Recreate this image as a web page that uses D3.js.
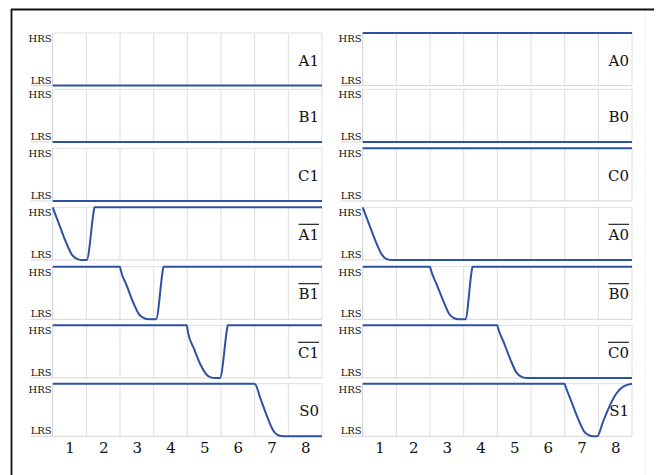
<!DOCTYPE html>
<html><head><meta charset="utf-8">
<script src="https://cdn.jsdelivr.net/npm/d3@7"></script>
<style>body{margin:0;background:#fff}svg{display:block}</style>
</head><body>
<svg id="c" width="656" height="475"></svg>
<script>
// ---- data ----
const categories = [1, 2, 3, 4, 5, 6, 7, 8];
const levelLabels = ["LRS", "HRS"];          // value 0 -> LRS, 1 -> HRS
const leftLabels  = ["A1", "B1", "C1", "A1", "B1", "C1", "S0"];
const leftBar     = [false, false, false, true, true, true, false];
const rightLabels = ["A0", "B0", "C0", "A0", "B0", "C0", "S1"];
const rightBar    = [false, false, false, true, true, true, false];

// series as [x, level] points
const sA1 = [[0.5, 0], [8.5, 0]];
const sB1 = [[0.5, 0], [8.5, 0]];
const sC1 = [[0.5, 0], [8.5, 0]];
const sA1bar = [[0.5, 1], [0.7, 0.66], [0.9, 0.33], [1.07, 0.1], [1.22, 0.02], [1.35, 0], [1.51, 0], [1.72, 0.93], [1.74, 1], [8.5, 1]];
const sB1bar = [[0.5, 1], [2.5, 1], [2.52, 0.94], [2.7, 0.64], [2.9, 0.31], [3.07, 0.09], [3.22, 0.02], [3.36, 0], [3.57, 0], [3.77, 0.93], [3.79, 1], [8.5, 1]];
const sC1bar = [[0.5, 1], [4.48, 1], [4.52, 0.86], [4.7, 0.55], [4.9, 0.24], [5.06, 0.07], [5.2, 0.01], [5.33, 0], [5.47, 0], [5.68, 0.93], [5.70, 1], [8.5, 1]];
const sS0 = [[0.5, 1], [6.5, 1], [6.68, 0.7], [6.88, 0.36], [7.06, 0.1], [7.2, 0.02], [7.35, 0], [8.5, 0]];

const sA0 = [[0.5, 1], [8.5, 1]];
const sB0 = [[0.5, 0], [8.5, 0]];
const sC0 = [[0.5, 1], [8.5, 1]];
const sA0bar = [[0.5, 1], [0.7, 0.66], [0.9, 0.33], [1.06, 0.11], [1.2, 0.02], [1.35, 0], [8.5, 0]];
const sB0bar = [[0.5, 1], [2.5, 1], [2.52, 0.95], [2.7, 0.66], [2.9, 0.34], [3.07, 0.1], [3.22, 0.02], [3.36, 0], [3.55, 0], [3.74, 0.93], [3.76, 1], [8.5, 1]];
const sC0bar = [[0.5, 1], [4.5, 1], [4.52, 0.95], [4.7, 0.66], [4.9, 0.33], [5.07, 0.1], [5.22, 0.02], [5.36, 0], [8.5, 0]];
const sS1 = [[0.5, 1], [6.5, 1], [6.52, 0.96], [6.7, 0.66], [6.9, 0.33], [7.08, 0.09], [7.22, 0.02], [7.34, 0], [7.47, 0], [7.63, 0.26], [7.83, 0.57], [8.03, 0.81], [8.25, 0.95], [8.5, 1]];

const leftSeries  = [sA1, sB1, sC1, sA1bar, sB1bar, sC1bar, sS0];
const rightSeries = [sA0, sB0, sC0, sA0bar, sB0bar, sC0bar, sS1];

// ---- layout ----
const rowTops = [33, 89.3, 148.3, 207.3, 266.7, 325.3, 383.7];
const rowH = 52.6;
const columns = [
  {x0: 52.7, x1: 322, labels: leftLabels, bars: leftBar, series: leftSeries},
  {x0: 362.7, x1: 632, labels: rightLabels, bars: rightBar, series: rightSeries}
];
const FONT = "'DejaVu Serif', serif";
const lineColor = "#2d52a3";
const textColor = "#111";

const svg = d3.select("#c");
svg.append("rect").attr("width", 656).attr("height", 475).attr("fill", "#fff");

// page border
svg.append("line").attr("x1", 645).attr("x2", 645).attr("y1", 10).attr("y2", 475).attr("stroke", "#efefef").attr("stroke-width", 1);
svg.append("line").attr("x1", 11.5).attr("x2", 11.5).attr("y1", 9).attr("y2", 475).attr("stroke", "#111").attr("stroke-width", 1.8);
svg.append("line").attr("x1", 11).attr("x2", 654).attr("y1", 9.5).attr("y2", 9.5).attr("stroke", "#111").attr("stroke-width", 1.8);

columns.forEach(col => {
  const x = d3.scaleLinear().domain([0.5, 8.5]).range([col.x0, col.x1]);
  rowTops.forEach((top, r) => {
    const bottom = top + rowH;
    const y = d3.scaleLinear().domain([0, 1]).range([bottom, top]);
    const g = svg.append("g");
    // vertical grid at band boundaries
    const bounds = categories.map(c => c + 0.5).slice(0, -1);
    g.selectAll("line.grid").data(bounds).join("line")
      .attr("x1", d => x(d)).attr("x2", d => x(d))
      .attr("y1", top).attr("y2", bottom)
      .attr("stroke", "#dedede").attr("stroke-width", 1);
    // frame
    g.append("line").attr("x1", x(8.5)).attr("x2", x(8.5)).attr("y1", top).attr("y2", bottom).attr("stroke", "#dedede");
    g.append("line").attr("x1", x(0.5)).attr("x2", x(8.5)).attr("y1", top).attr("y2", top).attr("stroke", "#dedede");
    g.append("line").attr("x1", x(0.5) - 22).attr("x2", x(8.5)).attr("y1", bottom).attr("y2", bottom).attr("stroke", "#d6d6d6");
    g.append("line").attr("x1", x(0.5)).attr("x2", x(0.5)).attr("y1", top).attr("y2", bottom).attr("stroke", "#cfcfcf");

    // y level labels
    g.append("text").attr("x", x(0.5) - 1).attr("y", y(1) + 9)
      .attr("text-anchor", "end").attr("font-family", FONT).attr("font-size", 10).attr("fill", textColor)
      .text(levelLabels[1]);
    g.append("text").attr("x", x(0.5) - 1).attr("y", y(0) - 2)
      .attr("text-anchor", "end").attr("font-family", FONT).attr("font-size", 10).attr("fill", textColor)
      .text(levelLabels[0]);

    // series line
    const line = d3.line().x(d => x(d[0])).y(d => y(d[1])).curve(d3.curveMonotoneX);
    g.append("path").datum(col.series[r]).attr("d", line)
      .attr("fill", "none").attr("stroke", lineColor).attr("stroke-width", 2);

    // panel label
    const t = g.append("text").attr("x", x(8.5) - 3).attr("y", top + 32.5)
      .attr("text-anchor", "end").attr("font-family", FONT).attr("font-size", 15).attr("fill", textColor)
      .text(col.labels[r]);
    if (col.bars[r]) {
      const w = t.node().getComputedTextLength();
      g.append("line").attr("x1", x(8.5) - 3 - w).attr("x2", x(8.5) - 3)
        .attr("y1", top + 17).attr("y2", top + 17).attr("stroke", textColor).attr("stroke-width", 1.1);
    }

    // x axis on bottom row
    if (r === rowTops.length - 1) {
      const ax = g.append("g").attr("transform", `translate(0,${bottom})`)
        .call(d3.axisBottom(x).tickValues(categories).tickSize(0).tickPadding(6).tickFormat(d3.format("d")));
      ax.select(".domain").remove();
      ax.selectAll("text").attr("font-family", FONT).attr("font-size", 15).attr("fill", textColor);
    }
  });
});
</script>
</body></html>
